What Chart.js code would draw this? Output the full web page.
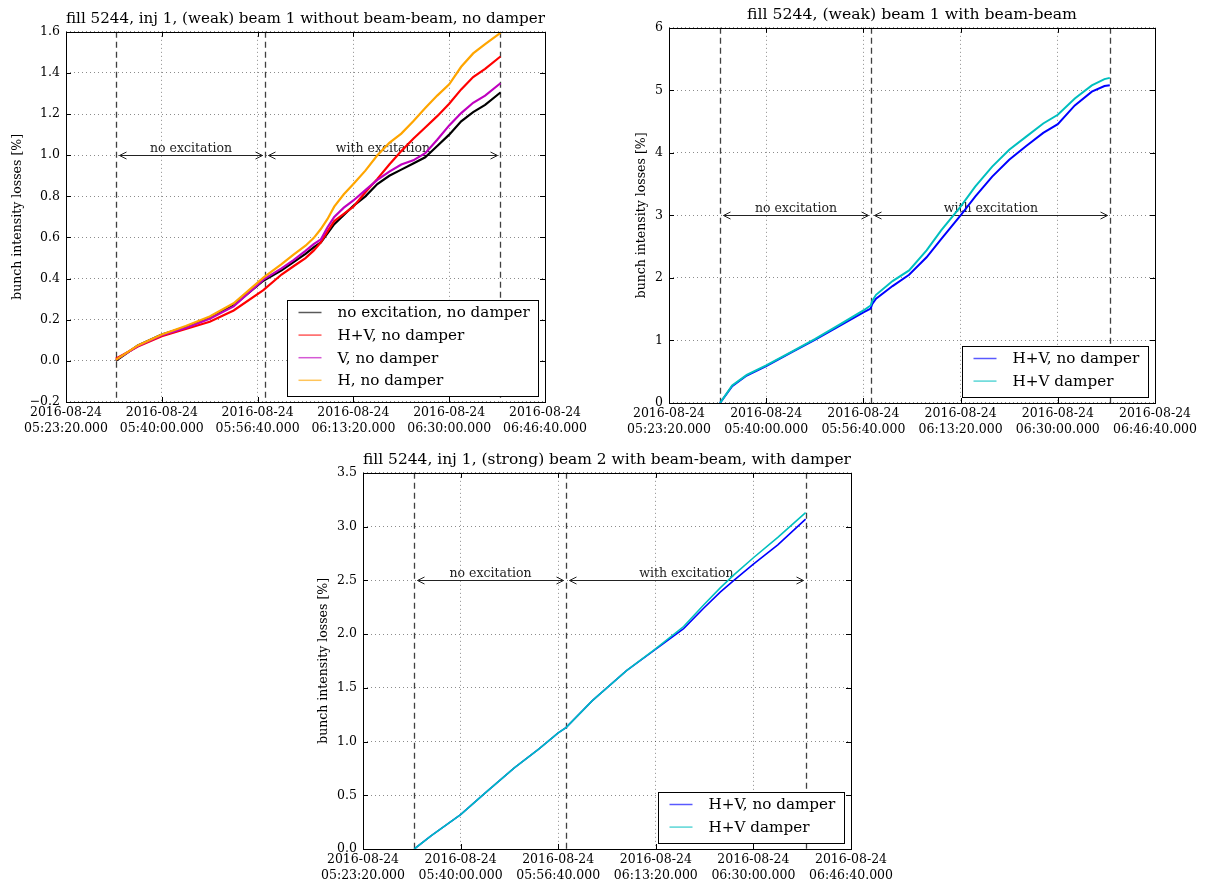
<!DOCTYPE html>
<html>
<head>
<meta charset="utf-8">
<script src="https://cdn.jsdelivr.net/npm/chart.js@4.4.1/dist/chart.umd.min.js"></script>
<style>
  body { margin: 0; background: #fff; }
  .panel { position: absolute; }
  canvas { display: block; }
</style>
</head>
<body>
<div class="panel" style="left:0;top:0"><canvas id="c1" width="600" height="440"></canvas></div>
<div class="panel" style="left:607px;top:0"><canvas id="c2" width="600" height="440"></canvas></div>
<div class="panel" style="left:300px;top:440px"><canvas id="c3" width="600" height="444"></canvas></div>
<script>
// top left: (weak) beam 1 without beam-beam, no damper
const times1 = ['05:32:00', '05:35:50', '05:40:00', '05:44:10', '05:48:20', '05:52:30', '05:57:40',
  '06:00:50', '06:02:55', '06:05:00', '06:06:25', '06:07:40', '06:08:50', '06:10:00', '06:11:40',
  '06:13:20', '06:15:25', '06:17:30', '06:19:35', '06:21:40', '06:23:45', '06:25:50', '06:27:55',
  '06:30:00', '06:32:05', '06:34:10', '06:36:15', '06:38:55'];
const noExcNoDamper1 = [0.0, 0.075, 0.128, 0.165, 0.21, 0.27, 0.39, 0.44, 0.48, 0.52, 0.552, 0.576, 0.62, 0.665,
  0.71, 0.754, 0.80, 0.86, 0.90, 0.93, 0.96, 0.99, 1.045, 1.10, 1.165, 1.21, 1.245, 1.305];
const hvNoDamper1 = [0.01, 0.07, 0.12, 0.155, 0.19, 0.245, 0.344, 0.42, 0.46, 0.50, 0.536, 0.576, 0.63, 0.68,
  0.715, 0.75, 0.82, 0.885, 0.955, 1.02, 1.08, 1.135, 1.19, 1.25, 1.32, 1.38, 1.42, 1.48];
const vNoDamper1 = [0.005, 0.072, 0.125, 0.16, 0.205, 0.265, 0.395, 0.45, 0.49, 0.535, 0.568, 0.59, 0.65, 0.70,
  0.745, 0.78, 0.83, 0.88, 0.92, 0.955, 0.975, 1.01, 1.075, 1.145, 1.205, 1.255, 1.29, 1.35];
const hNoDamper1 = [0.005, 0.075, 0.128, 0.17, 0.216, 0.28, 0.405, 0.47, 0.517, 0.56, 0.597, 0.641, 0.69, 0.75,
  0.81, 0.86, 0.925, 1.0, 1.06, 1.105, 1.165, 1.23, 1.29, 1.345, 1.43, 1.495, 1.54, 1.595];

// top right: (weak) beam 1 with beam-beam
const times2 = ['05:32:05', '05:34:10', '05:36:40', '05:40:00', '05:44:10', '05:48:20', '05:52:30', '05:56:40',
  '05:57:55', '05:58:10', '05:58:50', '06:01:40', '06:04:30', '06:07:30', '06:10:00', '06:13:20', '06:15:50',
  '06:18:45', '06:21:40', '06:24:35', '06:27:30', '06:30:00', '06:32:55', '06:35:50', '06:38:00', '06:38:55'];
const hvNoDamper2 = [0, 0.27, 0.44, 0.59, 0.80, 1.01, 1.23, 1.45, 1.51, 1.58, 1.67, 1.87, 2.05, 2.33, 2.62, 3.0,
  3.30, 3.62, 3.89, 4.11, 4.32, 4.46, 4.76, 4.98, 5.07, 5.08];
const hvDamper2 = [0, 0.28, 0.45, 0.60, 0.81, 1.02, 1.25, 1.48, 1.56, 1.63, 1.73, 1.95, 2.12, 2.44, 2.76, 3.14,
  3.46, 3.78, 4.05, 4.26, 4.47, 4.61, 4.87, 5.08, 5.18, 5.20];

// bottom: (strong) beam 2 with beam-beam, with damper
const times3 = ['05:32:05', '05:35:00', '05:40:00', '05:44:10', '05:49:10', '05:53:20', '05:56:40', '05:58:00',
  '06:02:30', '06:08:20', '06:13:20', '06:18:05', '06:21:30', '06:24:20', '06:26:40', '06:30:00', '06:34:10', '06:38:55'];
const hvNoDamper3 = [0, 0.125, 0.32, 0.52, 0.755, 0.93, 1.08, 1.13, 1.38, 1.66, 1.86, 2.05, 2.24, 2.39, 2.50, 2.65, 2.83, 3.07];
const hvDamper3 = [0, 0.125, 0.32, 0.52, 0.755, 0.93, 1.08, 1.13, 1.38, 1.66, 1.865, 2.07, 2.27, 2.43, 2.55, 2.71, 2.90, 3.13];

const xTicks = ['05:23:20', '05:40:00', '05:56:40', '06:13:20', '06:30:00', '06:46:40'];
const tickDate = '2016-08-24';
// start of measurement, start of excitation, end
const markerTimes = ['05:32:00', '05:57:55', '06:38:55'];
const phaseLabels = ['no excitation', 'with excitation'];

function toSec(t) {
  const p = t.split(':').map(Number);
  return p[0] * 3600 + p[1] * 60 + p[2];
}
function pad2(n) { return String(n).padStart(2, '0'); }
function fmtSec(s) {
  return pad2(Math.floor(s / 3600)) + ':' + pad2(Math.floor(s / 60) % 60) + ':' + pad2(s % 60) + '.000';
}

Chart.defaults.font.family = '"DejaVu Serif", serif';
Chart.defaults.color = '#000';

const marks = {
  id: 'marks',
  beforeDatasetsDraw(chart, args, opts) {
    const { ctx, chartArea: a, scales: { x, y } } = chart;
    const px = markerTimes.map(t => Math.round(x.getPixelForValue(toSec(t))) + 0.5);
    ctx.save();
    // vertical dashed lines
    ctx.strokeStyle = 'rgba(0,0,0,0.75)';
    ctx.lineWidth = 1.3;
    ctx.setLineDash([6, 4]);
    px.forEach(p => {
      ctx.beginPath(); ctx.moveTo(p, a.top); ctx.lineTo(p, a.bottom); ctx.stroke();
    });
    // double arrows + labels
    ctx.setLineDash([]);
    ctx.lineWidth = 1;
    ctx.strokeStyle = '#222';
    ctx.fillStyle = '#222';
    ctx.font = '12.5px "DejaVu Serif"';
    ctx.textAlign = 'center';
    ctx.textBaseline = 'alphabetic';
    const ay = Math.round(y.getPixelForValue(opts.arrowY)) + 0.5;
    for (let i = 0; i < 2; i++) {
      const x0 = px[i] + 3, x1 = px[i + 1] - 3;
      ctx.beginPath(); ctx.moveTo(x0, ay); ctx.lineTo(x1, ay); ctx.stroke();
      ctx.beginPath();
      ctx.moveTo(x0 + 7, ay - 3.5); ctx.lineTo(x0, ay); ctx.lineTo(x0 + 7, ay + 3.5);
      ctx.moveTo(x1 - 7, ay - 3.5); ctx.lineTo(x1, ay); ctx.lineTo(x1 - 7, ay + 3.5);
      ctx.stroke();
      ctx.fillText(phaseLabels[i], (px[i] + px[i + 1]) / 2, ay - 4);
    }
    ctx.restore();
  },
  afterDatasetsDraw(chart) {
    const { ctx, chartArea: a, scales: { x, y } } = chart;
    ctx.save();
    // frame with inward ticks
    ctx.strokeStyle = '#000';
    ctx.lineWidth = 1;
    ctx.strokeRect(Math.round(a.left) + 0.5, Math.round(a.top) + 0.5,
      Math.round(a.right - a.left), Math.round(a.bottom - a.top));
    ctx.beginPath();
    x.ticks.forEach(t => {
      const p = Math.round(x.getPixelForValue(t.value)) + 0.5;
      ctx.moveTo(p, a.bottom); ctx.lineTo(p, a.bottom - 5);
      ctx.moveTo(p, a.top); ctx.lineTo(p, a.top + 5);
    });
    y.ticks.forEach(t => {
      const p = Math.round(y.getPixelForValue(t.value)) + 0.5;
      ctx.moveTo(a.left, p); ctx.lineTo(a.left + 5, p);
      ctx.moveTo(a.right, p); ctx.lineTo(a.right - 5, p);
    });
    ctx.stroke();
    // legend, lower right
    const sets = chart.data.datasets;
    ctx.font = '15.2px "DejaVu Serif"';
    const tw = Math.max(...sets.map(d => ctx.measureText(d.label).width));
    const w = 11 + 23 + 16 + tw + 9;
    const h = 28 + (sets.length - 1) * 22.6;
    const bx = Math.round(a.right - 7 - w) + 0.5, by = Math.round(a.bottom - 6 - h) + 0.5;
    ctx.fillStyle = '#fff';
    ctx.fillRect(bx, by, w, h);
    ctx.strokeStyle = '#000';
    ctx.strokeRect(bx, by, Math.round(w), Math.round(h));
    ctx.textAlign = 'left';
    ctx.textBaseline = 'middle';
    sets.forEach((d, i) => {
      const ry = by + 12 + i * 22.6;
      ctx.globalAlpha = 0.65;
      ctx.strokeStyle = d.borderColor;
      ctx.lineWidth = 1.5;
      ctx.beginPath(); ctx.moveTo(bx + 11, ry); ctx.lineTo(bx + 34, ry); ctx.stroke();
      ctx.globalAlpha = 1;
      ctx.fillStyle = '#000';
      ctx.fillText(d.label, bx + 50, ry + 1);
    });
    ctx.restore();
  }
};

function makeChart(id, c) {
  // later series are plotted over earlier ones
  const datasets = c.series.map((s, k) => ({
    label: s.label,
    data: c.times.map((t, i) => ({ x: toSec(t), y: s.values[i] })),
    borderColor: s.color,
    borderWidth: c.lineWidth,
    order: -k,
    pointRadius: 0,
    tension: 0,
    fill: false
  }));
  return new Chart(document.getElementById(id), {
    type: 'line',
    data: { datasets: datasets },
    plugins: [marks],
    options: {
      responsive: false,
      animation: false,
      layout: { padding: { left: 0, right: c.rightPad, top: 0, bottom: 0 } },
      plugins: {
        legend: { display: false },
        tooltip: { enabled: false },
        title: {
          display: true,
          text: c.title,
          fullSize: false,
          color: '#000',
          font: { size: 15.7, weight: 'normal', lineHeight: 1.2 },
          padding: { top: c.titleTop, bottom: 3 }
        },
        marks: { arrowY: c.arrowY }
      },
      scales: {
        x: {
          type: 'linear',
          min: toSec(xTicks[0]),
          max: toSec(xTicks[xTicks.length - 1]),
          afterBuildTicks: s => { s.ticks = xTicks.map(t => ({ value: toSec(t) })); },
          afterFit: s => { s.height = c.xAxisH; s.paddingLeft = 0; s.paddingRight = 0; },
          grid: { color: 'rgba(0,0,0,0.45)', lineWidth: 1, drawTicks: false },
          border: { display: false, dash: [1, 3] },
          ticks: {
            autoSkip: false, maxRotation: 0, padding: 3,
            font: { size: 12.5, lineHeight: 1.28 },
            callback: v => [tickDate, fmtSec(v)]
          }
        },
        y: {
          min: c.yMin,
          max: c.yMax,
          afterFit: s => { s.width = c.yAxisW; s.paddingTop = 0; s.paddingBottom = 0; },
          grid: { color: 'rgba(0,0,0,0.45)', lineWidth: 1, drawTicks: false },
          border: { display: false, dash: [1, 3] },
          ticks: {
            stepSize: c.yStep, padding: 6,
            font: { size: 12.5 },
            callback: v => Number(v).toFixed(c.yDec).replace('-', '\u2212')
          },
          title: {
            display: true,
            text: 'bunch intensity losses [%]',
            font: { size: 12.5, lineHeight: 1.2 },
            padding: { top: c.yTitlePad, bottom: 0 }
          }
        }
      }
    }
  });
}

makeChart('c1', {
  title: 'fill 5244, inj 1, (weak) beam 1 without beam-beam, no damper',
  times: times1,
  series: [
    { label: 'no excitation, no damper', values: noExcNoDamper1, color: '#000000' },
    { label: 'H+V, no damper', values: hvNoDamper1, color: '#ff0000' },
    { label: 'V, no damper', values: vNoDamper1, color: '#bf00bf' },
    { label: 'H, no damper', values: hNoDamper1, color: '#ffa500' }
  ],
  lineWidth: 2.2,
  yMin: -0.2, yMax: 1.6, yStep: 0.2, yDec: 1, arrowY: 1.0,
  yAxisW: 66, rightPad: 55, titleTop: 10, xAxisH: 38, yTitlePad: 10
});

makeChart('c2', {
  title: 'fill 5244, (weak) beam 1 with beam-beam',
  times: times2,
  series: [
    { label: 'H+V, no damper', values: hvNoDamper2, color: '#0000ff' },
    { label: 'H+V damper', values: hvDamper2, color: '#00bfbf' }
  ],
  lineWidth: 2,
  yMin: 0, yMax: 6, yStep: 1, yDec: 0, arrowY: 3,
  yAxisW: 62, rightPad: 52, titleTop: 6, xAxisH: 37, yTitlePad: 27
});

makeChart('c3', {
  title: 'fill 5244, inj 1, (strong) beam 2 with beam-beam, with damper',
  times: times3,
  series: [
    { label: 'H+V, no damper', values: hvNoDamper3, color: '#0000ff' },
    { label: 'H+V damper', values: hvDamper3, color: '#00bfbf' }
  ],
  lineWidth: 1.6,
  yMin: 0, yMax: 3.5, yStep: 0.5, yDec: 1, arrowY: 2.5,
  yAxisW: 63, rightPad: 49, titleTop: 11, xAxisH: 35, yTitlePad: 16
});
</script>
</body>
</html>
